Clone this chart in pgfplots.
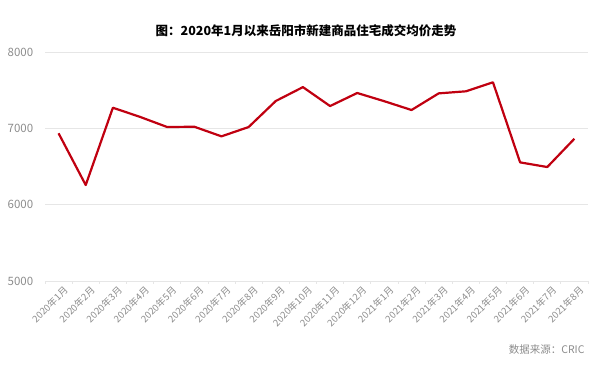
\documentclass[border=0pt]{standalone}
\usepackage{pgfplots}
\pgfplotsset{compat=1.18}
\usepackage{fontspec}
\setmainfont{Noto Sans CJK SC}
\definecolor{linered}{HTML}{C00010}
\definecolor{txtgray}{HTML}{8C8C8C}
\definecolor{gridgray}{HTML}{E6E6E6}
\begin{document}
\begin{tikzpicture}[x=1pt,y=1pt]
\useasboundingbox (0,0) rectangle (600,370);
\node[font=\fontsize{12.5}{14}\selectfont\bfseries] at (306,339) {图：2020年1月以来岳阳市新建商品住宅成交均价走势};
\node[anchor=east,text=txtgray,font=\fontsize{10.5}{12}\selectfont] at (588,20) {数据来源：CRIC};
\begin{axis}[
  at={(45pt,89pt)}, anchor=south west,
  width=543pt, height=229pt, scale only axis,
  xmin=-0.5, xmax=19.5, ymin=5000, ymax=8000,
  ytick={5000,6000,7000,8000},
  yticklabel style={text=txtgray,font=\fontsize{11.5}{12}\selectfont,xshift=-4pt},
  /pgf/number format/assume math mode=true,
  /pgf/number format/1000 sep={},
  ymajorgrids, grid style={gridgray,line width=0.8pt},
  xtick={0,...,19},
  xticklabels={2020年1月,2020年2月,2020年3月,2020年4月,2020年5月,2020年6月,2020年7月,2020年8月,2020年9月,2020年10月,2020年11月,2020年12月,2021年1月,2021年2月,2021年3月,2021年4月,2021年5月,2021年6月,2021年7月,2021年8月},
  xticklabel style={rotate=45,anchor=north east,text=txtgray,font=\fontsize{9.5}{10}\selectfont,inner sep=1pt,xshift=4pt,yshift=-2pt},
  major x tick style={draw=none},
  minor xtick={-0.5,0.5,...,19.5},
  minor x tick style={draw=gridgray,line width=0.8pt},
  minor tick length=3pt,
  tick align=outside,
  major y tick style={draw=none},
  axis line style={draw=none},
  axis x line*=bottom, axis y line*=left,
  clip=false,
]
\addplot[draw=gridgray,line width=0.8pt,forget plot] coordinates {(-0.5,5000) (19.5,5000)};
\addplot[linered, line width=2.2pt, line join=round, mark=none] coordinates {
(0,6935) (1,6257) (2,7270) (3,7150) (4,7017) (5,7021) (6,6895) (7,7017) (8,7358) (9,7540)
(10,7292) (11,7463) (12,7355) (13,7240) (14,7458) (15,7485) (16,7603) (17,6554) (18,6493) (19,6864)
};
\end{axis}
\end{tikzpicture}
\end{document}
